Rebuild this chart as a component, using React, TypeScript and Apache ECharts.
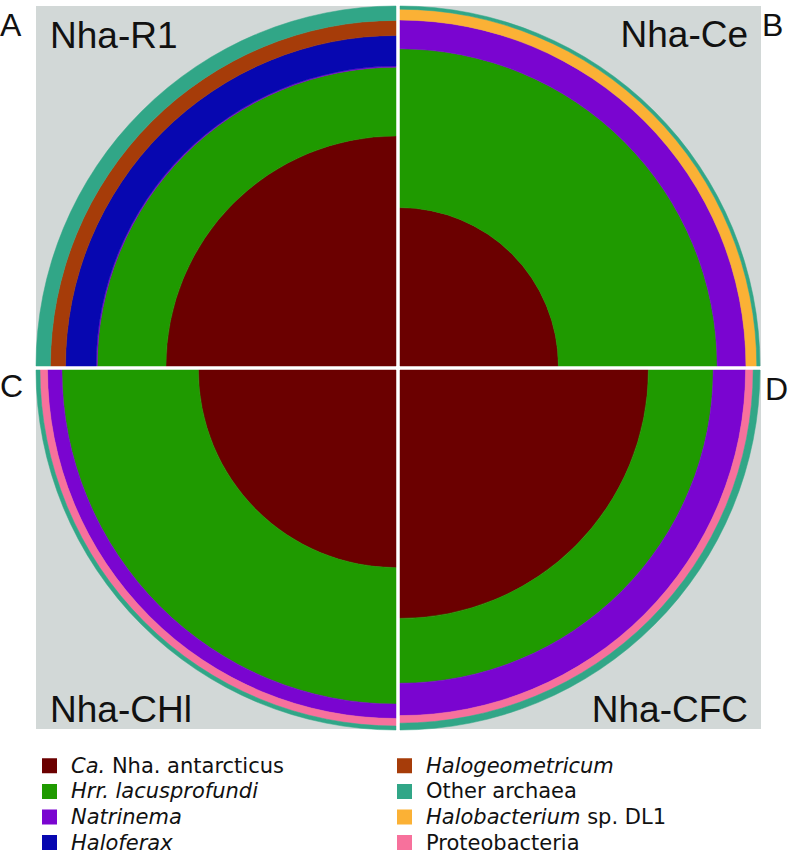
import React, { useEffect, useRef } from 'react';
import * as echarts from 'echarts';

// Samples in clockwise order starting at 12 o'clock (top-right quadrant first)
const samples = ['Nha-Ce', 'Nha-CFC', 'Nha-CHl', 'Nha-R1'];
const panelLetters = ['B', 'D', 'C', 'A'];

// Taxa, in stacking order from the centre outwards
const taxa = [
  'Ca. Nha. antarcticus',
  'Hrr. lacusprofundi',
  'Natrinema',
  'Haloferax',
  'Halogeometricum',
  'Halobacterium sp. DL1',
  'Proteobacteria',
  'Other archaea',
];
const taxaColors = ['#6b0000', '#1f9a00', '#7a05d0', '#0707b0', '#a63c09', '#fbb135', '#f7719c', '#31a687'];

// Ring thickness (% of the radius) per sample: [Nha-Ce, Nha-CFC, Nha-CHl, Nha-R1]
const caNhaAntarcticus = [44.0, 69.0, 54.9, 63.9];
const hrrLacusprofundi = [44.1, 18.0, 37.9, 19.1];
const natrinema = [8.0, 9.0, 4.0, 0.3];
const haloferax = [0, 0, 0, 8.5];
const halogeometricum = [0, 0, 0, 4.2];
const halobacterium = [3.0, 0, 0, 0];
const proteobacteria = [0, 2.1, 2.1, 0];
const otherArchaea = [0.9, 1.9, 1.1, 4.0];
const taxaValues = [caNhaAntarcticus, hrrLacusprofundi, natrinema, haloferax, halogeometricum, halobacterium, proteobacteria, otherArchaea];

// Legend columns and their rich-text labels
const legendColumn1 = ['Ca. Nha. antarcticus', 'Hrr. lacusprofundi', 'Natrinema', 'Haloferax'];
const legendColumn2 = ['Halogeometricum', 'Other archaea', 'Halobacterium sp. DL1', 'Proteobacteria'];
const legendRich: Record<string, string> = {
  'Ca. Nha. antarcticus': '{i|Ca.}{n| Nha. antarcticus}',
  'Hrr. lacusprofundi': '{i|Hrr. lacusprofundi}',
  'Natrinema': '{i|Natrinema}',
  'Haloferax': '{i|Haloferax}',
  'Halogeometricum': '{i|Halogeometricum}',
  'Other archaea': '{n|Other archaea}',
  'Halobacterium sp. DL1': '{i|Halobacterium}{n| sp. DL1}',
  'Proteobacteria': '{n|Proteobacteria}',
};

const FONT = '"Liberation Sans", Arial, Helvetica, sans-serif';
const LEGEND_FONT = '"DejaVu Sans", "Liberation Sans", Arial, sans-serif';

export default function App() {
  const ref = useRef<HTMLDivElement>(null);

  useEffect(() => {
    if (!ref.current) return;
    const chart = echarts.init(ref.current, undefined, { renderer: 'svg' });

    // quadrant geometry (layout only)
    const centers: Record<string, [number, number]> = {
      'Nha-Ce': [400, 366],
      'Nha-CFC': [400, 370],
      'Nha-CHl': [396, 370],
      'Nha-R1': [396, 366],
    };
    const boxes: Record<string, [number, number, number, number]> = {
      'Nha-Ce': [400, 6, 361, 360],
      'Nha-CFC': [400, 370, 361, 359],
      'Nha-CHl': [36, 370, 360, 359],
      'Nha-R1': [36, 6, 360, 360],
    };
    const labelPos: Record<string, any> = {
      'Nha-Ce': { x: 748, y: 34, align: 'right' },
      'Nha-CFC': { x: 748, y: 709.5, align: 'right' },
      'Nha-CHl': { x: 50, y: 709.5, align: 'left' },
      'Nha-R1': { x: 50, y: 35.5, align: 'left' },
    };
    const letterPos: Record<string, any> = {
      'Nha-Ce': { x: 762, y: 25 },
      'Nha-CFC': { x: 765, y: 389 },
      'Nha-CHl': { x: 0, y: 386 },
      'Nha-R1': { x: 0, y: 25 },
    };

    const polar = samples.map((s) => ({ center: centers[s], radius: 360 }));
    const angleAxis = samples.map((_, k) => ({
      polarIndex: k,
      type: 'category',
      data: samples,
      startAngle: 90,
      clockwise: true,
      show: false,
    }));
    const radiusAxis = samples.map((_, k) => ({
      polarIndex: k,
      type: 'value',
      min: 0,
      max: 100,
      show: false,
    }));

    const series: any[] = [];
    samples.forEach((s, k) => {
      taxa.forEach((t, ti) => {
        const v = taxaValues[ti][k];
        if (!(v > 0)) return;
        series.push({
          type: 'bar',
          name: t,
          coordinateSystem: 'polar',
          polarIndex: k,
          stack: 'stack-' + s,
          barCategoryGap: '0%',
          silent: true,
          data: samples.map((_, j) => (j === k ? v : '-')),
          itemStyle: { color: taxaColors[ti], borderColor: taxaColors[ti], borderWidth: 0.5 },
        });
      });
    });
    taxa.forEach((t, ti) => {
      if (!series.some((se) => se.name === t)) {
        series.push({ type: 'bar', name: t, coordinateSystem: 'polar', polarIndex: 0, data: [], itemStyle: { color: taxaColors[ti] } });
      }
    });

    const LFS = 21;
    const LLH = 25.6;
    const rich = {
      s: { width: 10, fontSize: LFS, lineHeight: LLH, fontFamily: LEGEND_FONT },
      i: { fontStyle: 'italic', fontSize: LFS, lineHeight: LLH, fontFamily: LEGEND_FONT, color: '#111' },
      n: { fontSize: LFS, lineHeight: LLH, fontFamily: LEGEND_FONT, color: '#111' },
    };
    const legendBase = {
      orient: 'vertical',
      top: 753,
      itemWidth: 13,
      itemHeight: 13,
      itemGap: 0,
      icon: 'rect',
      padding: 0,
      selectedMode: false,
      formatter: (name: string) => '{s| }' + legendRich[name],
      textStyle: { fontSize: LFS, lineHeight: LLH, fontFamily: LEGEND_FONT, color: '#111', rich },
    };

    const graphic: any[] = [];
    samples.forEach((s, k) => {
      const [x, y, w, h] = boxes[s];
      graphic.push({ type: 'rect', z: -10, silent: true, shape: { x, y, width: w, height: h }, style: { fill: '#d2d8d7' } });
      const lp = labelPos[s];
      graphic.push({
        type: 'text', z: 10, silent: true, x: lp.x, y: lp.y,
        style: { text: s, fontSize: 37, fontFamily: FONT, fill: '#111', align: lp.align, verticalAlign: 'middle' },
      });
      const le = letterPos[s];
      graphic.push({
        type: 'text', z: 10, silent: true, x: le.x, y: le.y,
        style: { text: panelLetters[k], fontSize: 32, fontFamily: FONT, fill: '#111', align: 'left', verticalAlign: 'middle' },
      });
    });

    chart.setOption({
      animation: false,
      backgroundColor: '#ffffff',
      polar,
      angleAxis,
      radiusAxis,
      legend: [
        { ...legendBase, left: 42, data: legendColumn1 },
        { ...legendBase, left: 397, data: legendColumn2 },
      ],
      graphic,
      series,
    });

    return () => chart.dispose();
  }, []);

  return <div ref={ref} style={{ position: 'absolute', left: 0, top: 0, width: 793, height: 861 }} />;
}
